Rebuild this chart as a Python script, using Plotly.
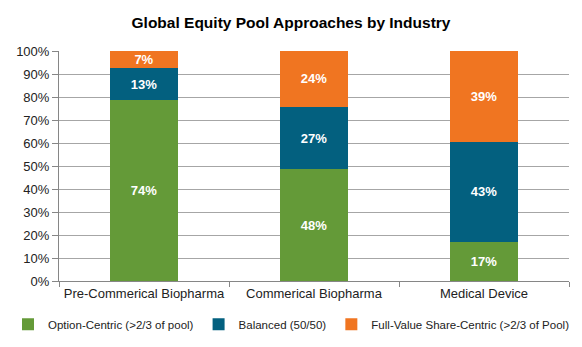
import plotly.graph_objects as go

categories = ["Pre-Commerical Biopharma", "Commerical Biopharma", "Medical Device"]
option_centric = [74, 48, 17]
balanced = [13, 27, 43]
full_value = [7, 24, 39]
series_names = ["Option-Centric (>2/3 of pool)", "Balanced (50/50)", "Full-Value Share-Centric (>2/3 of Pool)"]
colors = ["#649A38", "#03607F", "#F07521"]

fig = go.Figure()
for name, vals, col in zip(series_names, [option_centric, balanced, full_value], colors):
    fig.add_trace(go.Bar(
        x=categories, y=vals, name=name, marker=dict(color=col, line=dict(width=0)),
        text=[f"{v}%" for v in vals], textposition="inside", insidetextanchor="middle",
        textfont=dict(family="Arial, Liberation Sans", size=13, color="white"),
        texttemplate="<b>%{text}</b>",
    ))

fig.update_layout(
    barmode="stack", barnorm="percent", bargap=0.6,
    width=582, height=347,
    margin=dict(l=59, r=13, t=51, b=66, autoexpand=False),
    paper_bgcolor="white", plot_bgcolor="white",
    title=dict(text="<b>Global Equity Pool Approaches by Industry</b>", x=0.5, xanchor="center",
               y=1 - 23 / 347, yanchor="middle",
               font=dict(family="Arial, Liberation Sans", size=15.5, color="black")),
    font=dict(family="Arial, Liberation Sans", size=13, color="#222222"),
    uniformtext=dict(minsize=12, mode="show"),
    legend=dict(orientation="h", x=-0.1, xanchor="left", y=-0.125, yanchor="top",
                font=dict(size=11.5, color="#222222"), traceorder="normal",
                itemwidth=30, borderwidth=0),
    showlegend=True,
)
fig.update_yaxes(range=[0, 100], dtick=10, ticksuffix="%", showgrid=True, gridcolor="#A6A6A6",
                 gridwidth=1, showline=True, linecolor="#868686", ticks="outside", ticklen=6,
                 tickcolor="#868686", zeroline=False, tickfont=dict(size=13, color="#222222"))
fig.update_xaxes(showline=True, linecolor="#868686", ticks="outside", ticklen=5,
                 tickcolor="#868686", tickson="boundaries", tickfont=dict(size=13, color="#222222"),
                 tickangle=0, mirror=False)

fig.write_html("out.html")
